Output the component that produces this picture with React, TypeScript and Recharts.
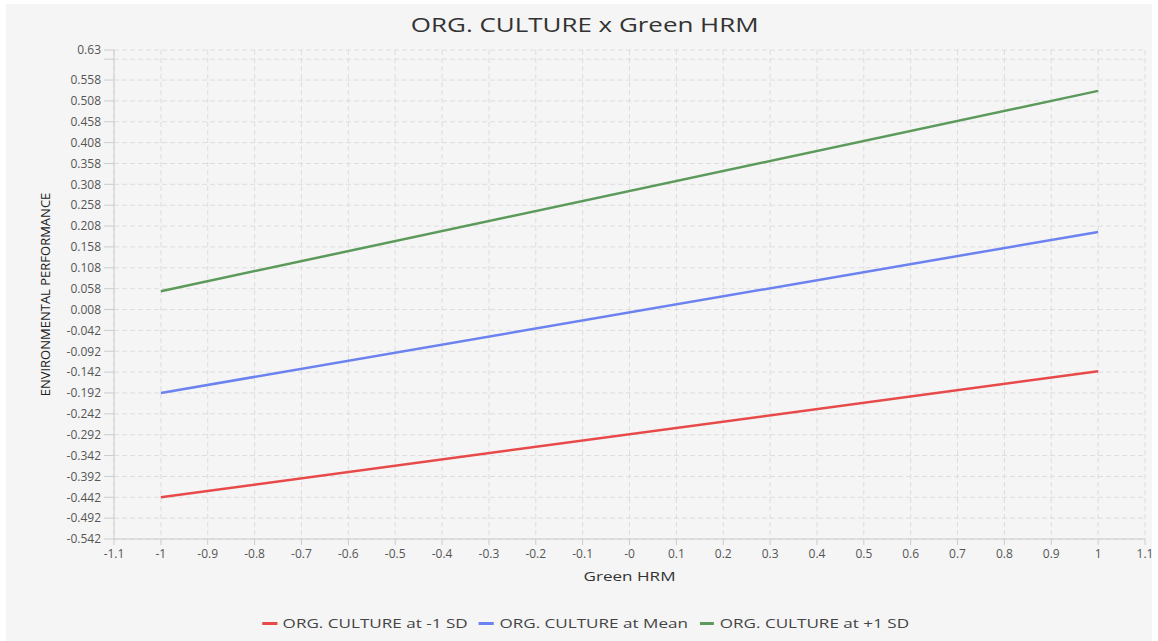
import React from "react";
import { LineChart, Line, XAxis, YAxis, CartesianGrid, Legend } from "recharts";

const xValues = [-1, 1];
const lowSD = [-0.442, -0.14];
const meanVals = [-0.192, 0.194];
const highSD = [0.052, 0.532];

const seriesKeys = ["low", "mean", "high"];
const seriesNames = ["ORG. CULTURE at -1 SD", "ORG. CULTURE at Mean", "ORG. CULTURE at +1 SD"];
const seriesColors = ["#e84a4a", "#6b82f0", "#5c9a5c"];

const xTicks = [-1.1, -1, -0.9, -0.8, -0.7, -0.6, -0.5, -0.4, -0.3, -0.2, -0.1, 0, 0.1, 0.2, 0.3, 0.4, 0.5, 0.6, 0.7, 0.8, 0.9, 1, 1.1];
const xTickLabels = ["-1.1", "-1", "-0.9", "-0.8", "-0.7", "-0.6", "-0.5", "-0.4", "-0.3", "-0.2", "-0.1", "-0", "0.1", "0.2", "0.3", "0.4", "0.5", "0.6", "0.7", "0.8", "0.9", "1", "1.1"];
const yTicks = [-0.542, -0.492, -0.442, -0.392, -0.342, -0.292, -0.242, -0.192, -0.142, -0.092, -0.042, 0.008, 0.058, 0.108, 0.158, 0.208, 0.258, 0.308, 0.358, 0.408, 0.458, 0.508, 0.558, 0.608, 0.63];
const yTickLabels = ["-0.542", "-0.492", "-0.442", "-0.392", "-0.342", "-0.292", "-0.242", "-0.192", "-0.142", "-0.092", "-0.042", "0.008", "0.058", "0.108", "0.158", "0.208", "0.258", "0.308", "0.358", "0.408", "0.458", "0.508", "0.558", "", "0.63"];

const data = xValues.map((x, i) => ({ x, low: lowSD[i], mean: meanVals[i], high: highSD[i] }));

const FONT = "'Segoe UI', 'Open Sans', 'Noto Sans', sans-serif";
const STRETCH = 1.265;

const renderLegend = () => (
  <div style={{ height: 24, paddingLeft: 21, display: "flex", justifyContent: "center", alignItems: "center" }}>
    <div style={{ display: "flex", alignItems: "center", transform: `scaleX(${STRETCH})`, transformOrigin: "50% 50%", fontFamily: FONT, fontSize: 13.5, color: "#444", whiteSpace: "nowrap" }}>
      {seriesNames.map((name, i) => (
        <div key={name} style={{ display: "flex", alignItems: "center", marginRight: i < seriesNames.length - 1 ? 9 : 0 }}>
          <span style={{ display: "inline-block", width: 11.5, height: 3, background: seriesColors[i], marginRight: 4.6 }} />
          <span>{name}</span>
        </div>
      ))}
    </div>
  </div>
);

const renderXLabel = (props: any) => {
  const vb = props.viewBox || {};
  const cx = vb.x + vb.width / 2;
  const y = vb.y + 37;
  return (
    <text x={cx} y={y} textAnchor="middle" dominantBaseline="central" fill="#333" fontSize={13} fontFamily={FONT} textLength={92} lengthAdjust="spacingAndGlyphs">
      Green HRM
    </text>
  );
};

export default function App() {
  return (
    <div style={{ position: "absolute", left: 6, top: 4, width: 1146, height: 637, background: "#f5f5f5", fontFamily: FONT }}>
      <div style={{ position: "absolute", top: 7, left: 0, width: 1158, textAlign: "center", whiteSpace: "nowrap" }}>
        <span style={{ display: "inline-block", fontSize: 19.5, color: "#333", transform: "scaleX(1.33)", transformOrigin: "50% 50%" }}>
          ORG. CULTURE x Green HRM
        </span>
      </div>
      <LineChart width={1146} height={637} data={data} margin={{ top: 46, right: 7, bottom: 6, left: 0 }}>
        <CartesianGrid stroke="#dddddd" strokeDasharray="5 3" />
        <XAxis
          type="number"
          dataKey="x"
          domain={[-1.1, 1.1]}
          ticks={xTicks}
          interval={0}
          tickFormatter={(v: number) => xTickLabels[xTicks.findIndex((t) => Math.abs(t - v) < 1e-9)] ?? String(v)}
          stroke="#cccccc"
          tick={{ fill: "#555", fontSize: 12 }}
          tickSize={6}
          tickMargin={4}
          height={72}
          label={{ content: renderXLabel }}
        />
        <YAxis
          type="number"
          domain={[-0.542, 0.63]}
          ticks={yTicks}
          interval={0}
          tickFormatter={(v: number) => yTickLabels[yTicks.findIndex((t) => Math.abs(t - v) < 1e-9)] ?? String(v)}
          stroke="#cccccc"
          tick={{ fill: "#555", fontSize: 12 }}
          tickSize={10}
          tickMargin={3}
          width={108}
          label={{ value: "ENVIRONMENTAL PERFORMANCE", angle: -90, position: "center", dx: -15, fill: "#222", fontSize: 13 }}
        />
        <Legend verticalAlign="bottom" content={renderLegend} />
        {seriesKeys.map((k, i) => (
          <Line key={k} type="linear" dataKey={k} name={seriesNames[i]} stroke={seriesColors[i]} strokeWidth={2.5} dot={false} isAnimationActive={false} />
        ))}
      </LineChart>
    </div>
  );
}
